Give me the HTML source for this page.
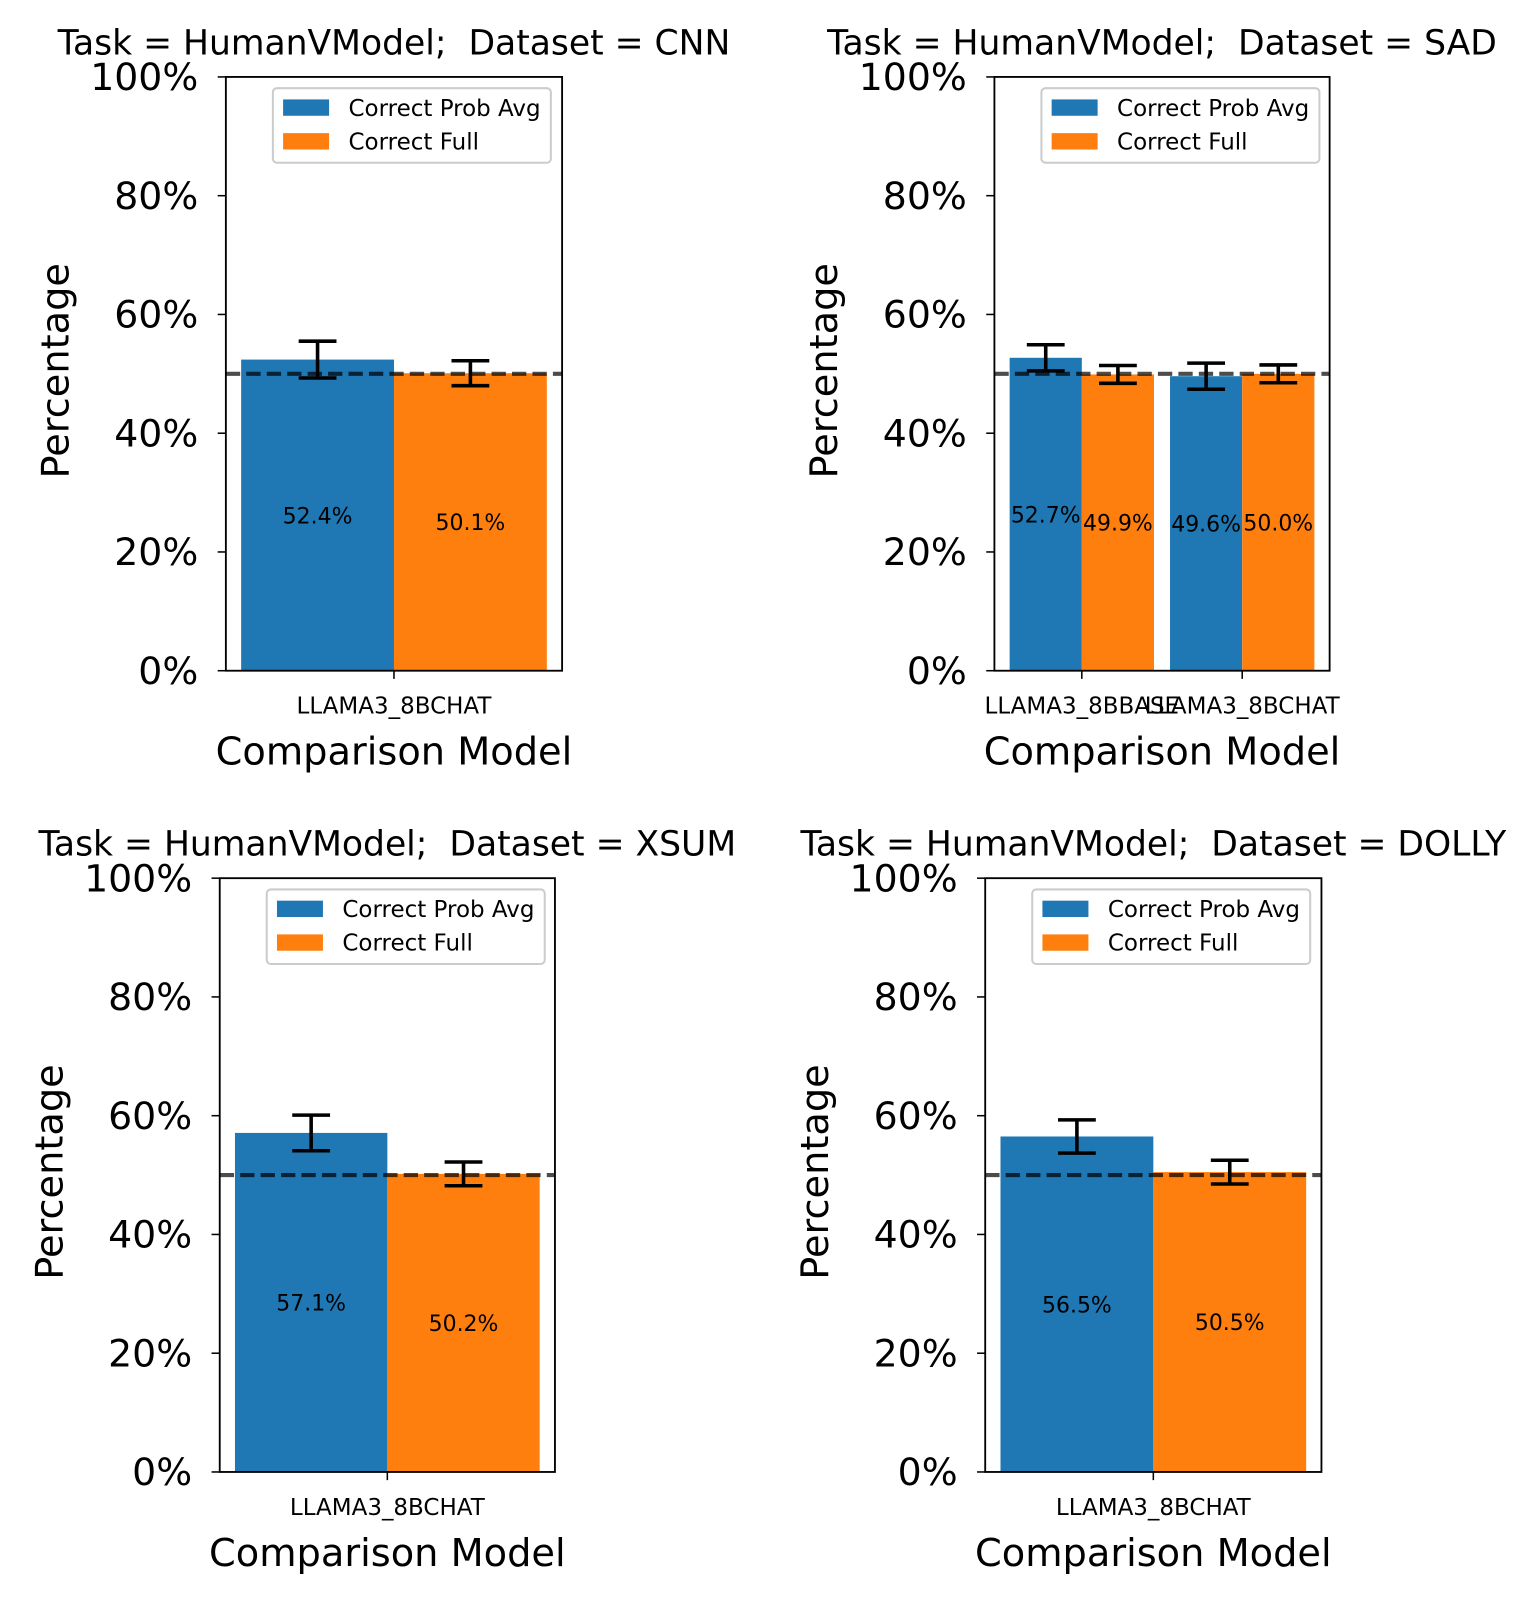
<!DOCTYPE html>
<html><head><meta charset="utf-8"><style>
html,body{margin:0;padding:0;background:#fff;}
svg{display:block;font-family:"DejaVu Sans","Liberation Sans",sans-serif;}
</style></head><body>
<svg id="chart" width="1533" height="1600" viewBox="0 0 1500 1565" xmlns="http://www.w3.org/2000/svg"></svg>
<script>
const datasets = ["CNN", "SAD", "XSUM", "DOLLY"];
const models = [["LLAMA3_8BCHAT"], ["LLAMA3_8BBASE", "LLAMA3_8BCHAT"], ["LLAMA3_8BCHAT"], ["LLAMA3_8BCHAT"]];
const probAvg = [[52.4], [52.7, 49.6], [57.1], [56.5]];
const probAvgErr = [[3.1], [2.2, 2.2], [3.0], [2.8]];
const full = [[50.1], [49.9, 50.0], [50.2], [50.5]];
const fullErr = [[2.1], [1.5, 1.5], [2.0], [2.0]];
const yTicks = [0, 20, 40, 60, 80, 100];
const baseline = 50;

const panels = [
  {L:221,R:550,T:75,B:656},
  {L:973,R:1301,T:75,B:656},
  {L:215,R:543,T:859,B:1440},
  {L:964,R:1293,T:859,B:1440}
];
const svg = document.getElementById('chart');
const NS = 'http://www.w3.org/2000/svg';
function mk(tag, attrs, parent, text){
  const e = document.createElementNS(NS, tag);
  for (const k in attrs) e.setAttribute(k, attrs[k]);
  if (text !== undefined) e.textContent = text;
  (parent || svg).appendChild(e);
  return e;
}
const BLUE = '#1f77b4', ORANGE = '#ff7f0e';

panels.forEach((p, i) => {
  const g = mk('g', {});
  
  
  const n = models[i].length;
  const w = n === 1 ? 0.4 : 0.45;
  const span = (n - 1) + 2*w;
  const xmin = -w - 0.05*span, xmax = (n-1) + w + 0.05*span;
  const x = v => p.L + (v - xmin) / (xmax - xmin) * (p.R - p.L);
  const y = v => p.B - v / 100 * (p.B - p.T);
  const cx = (p.L + p.R) / 2;

  for (let j = 0; j < n; j++) {
    [[probAvg, probAvgErr, BLUE, -w, 'prob-avg'], [full, fullErr, ORANGE, 0, 'full']].forEach(([vals, errs, col, off, nm]) => {
      const v = vals[i][j], e = errs[i][j];
      const x0 = x(j + off), x1 = x(j + off + w);
      const b = mk('rect', {x:x0, y:y(v), width:x1 - x0, height:y(0) - y(v), fill:col}, g);
      
      
      const mx = (x0 + x1) / 2;
      const lbl = mk('text', {x:mx, y:y(v/2) + 8, 'font-size':21.5, 'text-anchor':'middle', fill:'#000'}, g, v.toFixed(1) + '%');
      
      
      const eb = mk('path', {d:`M${mx},${y(v+e)}V${y(v-e)}M${mx-18.5},${y(v+e)}H${mx+18.5}M${mx-18.5},${y(v-e)}H${mx+18.5}`, stroke:'#000', 'stroke-width':3.5, fill:'none'}, g);
      
      
    });
    const tx = x(j);
    mk('line', {x1:tx, x2:tx, y1:p.B, y2:p.B + 8, stroke:'#000', 'stroke-width':1.5}, g);
    const tl = mk('text', {x:tx, y:p.B + 42, 'font-size':22.5, 'text-anchor':'middle'}, g, models[i][j]);
    
    
  }
  const bl = mk('line', {x1:p.L, x2:p.R, y1:y(baseline), y2:y(baseline), stroke:'#000', 'stroke-opacity':0.7, 'stroke-width':4, 'stroke-dasharray':'14,6'}, g);
  
  
  const fr = mk('rect', {x:p.L, y:p.T, width:p.R - p.L, height:p.B - p.T, fill:'none', stroke:'#000', 'stroke-width':1.8}, g);
  
  
  yTicks.forEach(t => {
    mk('line', {x1:p.L - 8, x2:p.L, y1:y(t), y2:y(t), stroke:'#000', 'stroke-width':1.5}, g);
    const yl = mk('text', {x:p.L - 27, y:y(t) + 13, 'font-size':37, 'text-anchor':'end'}, g, t + '%');
    
    
  });
  const yt = mk('text', {x:0, y:0, 'font-size':37.5, 'text-anchor':'middle', transform:`translate(${p.L - 154},${(p.T + p.B)/2 - 3}) rotate(-90)`}, g, 'Percentage');
  
  
  const xt = mk('text', {x:cx, y:p.B + 92, 'font-size':37.5, 'text-anchor':'middle'}, g, 'Comparison Model');
  
  
  const tt = mk('text', {x:cx, y:p.T - 22, 'font-size':33.8, 'text-anchor':'middle'}, g, 'Task = HumanVModel;  Dataset = ' + datasets[i]);
  tt.setAttribute('style', 'white-space:pre');
  
  
  const lg = mk('g', {}, g);
  
  
  const lx = p.L + 46, ly = p.T + 11;
  mk('rect', {x:lx, y:ly, width:272, height:73, rx:4, fill:'#fff', 'fill-opacity':0.8, stroke:'#ccc', 'stroke-width':2}, lg);
  mk('rect', {x:lx + 10, y:ly + 11, width:45, height:16, fill:BLUE}, lg);
  mk('rect', {x:lx + 10, y:ly + 44, width:45, height:16, fill:ORANGE}, lg);
  const e1 = mk('text', {x:lx + 74, y:ly + 27, 'font-size':22.5}, lg, 'Correct Prob Avg');
  
  
  const e2 = mk('text', {x:lx + 74, y:ly + 60, 'font-size':22.5}, lg, 'Correct Full');
  
  
});
</script>
</body></html>
